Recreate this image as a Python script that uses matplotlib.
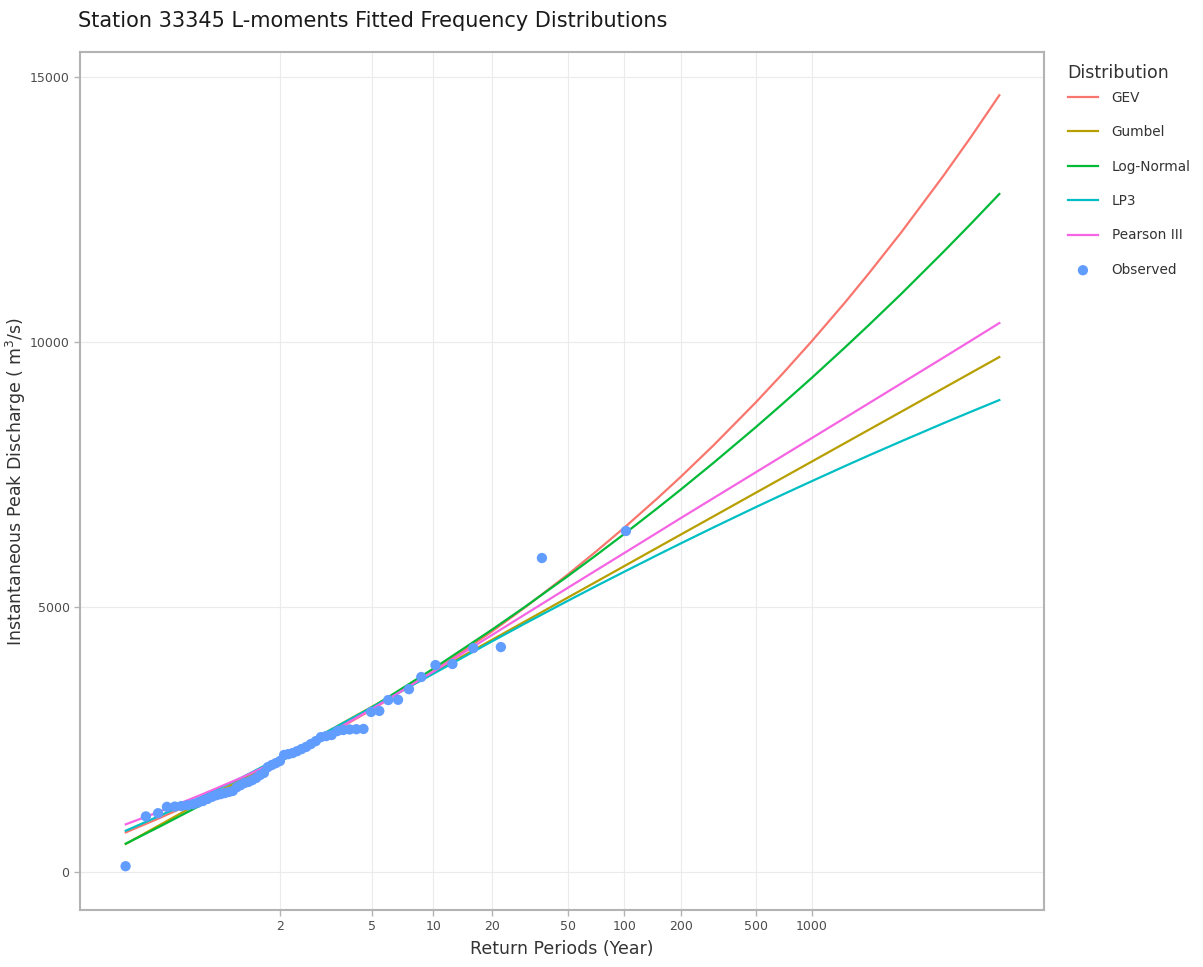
import numpy as np
import matplotlib
matplotlib.use("Agg")
import matplotlib.pyplot as plt
from matplotlib.ticker import FixedLocator, FixedFormatter

# observed annual peaks, ranked largest first, with their plotting-position return periods
obs_T = [102.0, 36.62, 22.31, 16.04, 12.53, 10.27, 8.707, 7.556, 6.673, 5.975,
         5.409, 4.941, 4.548, 4.212, 3.923, 3.671, 3.449, 3.253, 3.078, 2.920,
         2.778, 2.649, 2.532, 2.424, 2.326, 2.235, 2.151, 2.073, 2.000, 1.932,
         1.869, 1.810, 1.754, 1.702, 1.653, 1.606, 1.562, 1.521, 1.481, 1.444,
         1.408, 1.374, 1.342, 1.311, 1.282, 1.254, 1.227, 1.201, 1.176, 1.153,
         1.130, 1.108, 1.087, 1.066, 1.047, 1.028, 1.0099]
obs_Q = [6435, 5925, 4245, 4225, 3925, 3905, 3680, 3450, 3250, 3245,
         3040, 3020, 2700, 2695, 2690, 2680, 2660, 2585, 2565, 2545,
         2470, 2415, 2360, 2320, 2280, 2245, 2225, 2210, 2095, 2055,
         2020, 1980, 1870, 1830, 1775, 1735, 1700, 1680, 1640, 1600,
         1530, 1510, 1490, 1470, 1450, 1420, 1380, 1340, 1310, 1280,
         1260, 1245, 1235, 1230, 1110, 1050, 110]

# fitted quantiles read at these return periods
curve_T = [1.01, 1.05, 1.2, 1.5, 2, 3, 5, 10, 20, 30, 50, 70, 100, 150, 200,
           300, 500, 700, 1000, 1500, 2000, 3000, 5000, 7000, 10000]
gev     = [748, 1019, 1384, 1743, 2100, 2541, 3068, 3785, 4536, 4999, 5610, 6034, 6499, 7052, 7460,
           8060, 8857, 9410, 10021, 10746, 11285, 12073, 13125, 13852, 14656]
gumbel  = [530, 886, 1339, 1758, 2152, 2610, 3121, 3763, 4379, 4733, 5176, 5466, 5773, 6122, 6369,
           6716, 7154, 7442, 7747, 8094, 8340, 8687, 9124, 9412, 9717]
lognorm = [535, 857, 1280, 1686, 2080, 2556, 3108, 3836, 4570, 5010, 5579, 5964, 6380, 6866, 7219,
           7728, 8390, 8841, 9328, 9899, 10313, 10911, 11692, 12220, 12793]
lp3     = [780, 1060, 1430, 1790, 2160, 2610, 3110, 3740, 4350, 4694, 5115, 5386, 5667, 5982, 6202,
           6507, 6883, 7125, 7377, 7660, 7857, 8128, 8464, 8680, 8905]
pe3     = [900, 1140, 1470, 1790, 2120, 2560, 3080, 3780, 4470, 4866, 5360, 5681, 6020, 6406, 6680,
           7061, 7540, 7856, 8190, 8570, 8840, 9221, 9700, 10019, 10358]

xticks = [2, 5, 10, 20, 50, 100, 200, 500, 1000]
yticks = [0, 5000, 10000, 15000]

SERIES = [
    ("GEV", gev, "#F8766D"),
    ("Gumbel", gumbel, "#B79F00"),
    ("Log-Normal", lognorm, "#00BA38"),
    ("LP3", lp3, "#00BFC4"),
    ("Pearson III", pe3, "#F564E3"),
]


# Gumbel probability paper: reduced variate of the return period
def fwd(T):
    T = np.asarray(T, dtype=float)
    with np.errstate(all="ignore"):
        return -np.log(-np.log1p(-1.0 / T))


def inv(y):
    y = np.asarray(y, dtype=float)
    with np.errstate(all="ignore"):
        return 1.0 / (-np.expm1(-np.exp(-y)))


plt.rcParams["font.family"] = ["DejaVu Sans"]

fig = plt.figure(figsize=(12.03, 9.67), dpi=100)
ax = fig.add_axes([0.0665, 0.0589, 0.8013, 0.8873])
ax.set_xscale("function", functions=(fwd, inv))

for name, vals, col in SERIES:
    ax.plot(curve_T, vals, color=col, lw=1.6, label=name, zorder=3)
ax.scatter(obs_T, obs_Q, s=55, color="#619CFF", edgecolors="none", label="Observed", zorder=4)

ax.set_xlim(inv(-2.092), inv(9.759))
ax.set_ylim(-717, 15472)

ax.xaxis.set_major_locator(FixedLocator(xticks))
ax.xaxis.set_major_formatter(FixedFormatter([str(t) for t in xticks]))
ax.xaxis.set_minor_locator(FixedLocator([]))
ax.set_yticks(yticks)
ax.set_yticklabels([str(t) for t in yticks])

ax.grid(True, color="#ebebeb", lw=0.8, zorder=0)
ax.set_axisbelow(True)
for sp in ax.spines.values():
    sp.set_color("#b3b3b3")
    sp.set_linewidth(1.5)
ax.tick_params(axis="both", colors="#b3b3b3", labelcolor="#4d4d4d", labelsize=9,
               length=4, width=1)

ax.set_xlabel("Return Periods (Year)", fontsize=12.5, color="#333333", labelpad=5)
ax.set_ylabel("Instantaneous Peak Discharge ( m$^3$/s)", fontsize=12.5, color="#333333", labelpad=1)

fig.text(0.065, 0.978, "Station 33345 L-moments Fitted Frequency Distributions",
         fontsize=15, color="#1a1a1a", ha="left", va="center")

# legend title drawn separately so the gap to the first entry matches
fig.text(0.8875, 1 - 73 / 967, "Distribution", fontsize=12.5, color="#333333",
         ha="left", va="center")
leg = ax.legend(loc="upper left", bbox_to_anchor=(1.015, 0.966),
                frameon=False, fontsize=9.8, labelspacing=1.5,
                handlelength=2.2, handletextpad=1.0, borderaxespad=0.3,
                scatterpoints=1)
for t in leg.get_texts():
    t.set_color("#333333")

fig.savefig("out.png", dpi=100, facecolor="white")
